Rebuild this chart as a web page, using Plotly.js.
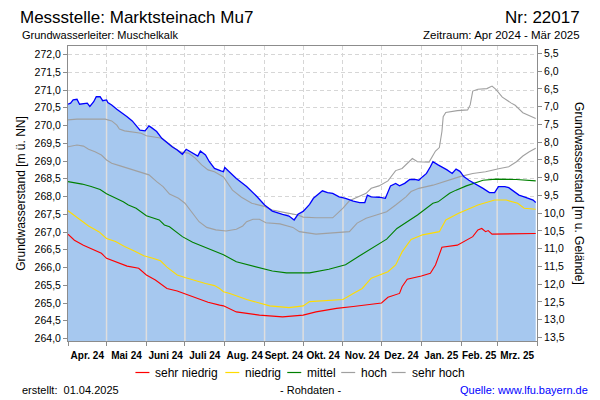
<!DOCTYPE html>
<html>
<head>
<meta charset="utf-8">
<script src="https://cdn.plot.ly/plotly-3.0.1.min.js"></script>
<style>html,body{margin:0;padding:0;background:#fff;}#chart{width:600px;height:400px;}</style>
</head>
<body>
<div id="chart"></div>
<script>
// ---------- Daten ----------
const messDatum = ['2024-04-01','2024-04-03','2024-04-05','2024-04-08','2024-04-10','2024-04-13','2024-04-16','2024-04-18','2024-04-21','2024-04-23','2024-04-26','2024-04-28',
  '2024-05-01','2024-05-02','2024-05-05','2024-05-09','2024-05-13','2024-05-17','2024-05-21','2024-05-24','2024-05-27','2024-05-31',
  '2024-06-03','2024-06-05','2024-06-09','2024-06-13','2024-06-17','2024-06-21','2024-06-25','2024-06-29',
  '2024-07-02','2024-07-06','2024-07-11','2024-07-13','2024-07-17','2024-07-20','2024-07-24','2024-07-29','2024-07-31',
  '2024-08-01','2024-08-06','2024-08-10','2024-08-18','2024-08-26',
  '2024-09-01','2024-09-07','2024-09-15','2024-09-20','2024-09-24','2024-09-27',
  '2024-10-01','2024-10-06','2024-10-09','2024-10-12','2024-10-16','2024-10-20','2024-10-24','2024-10-29',
  '2024-11-03','2024-11-09','2024-11-14','2024-11-18','2024-11-20','2024-11-23','2024-11-29',
  '2024-12-04','2024-12-06','2024-12-08','2024-12-12','2024-12-15','2024-12-19','2024-12-23','2024-12-27','2024-12-30',
  '2025-01-02','2025-01-05','2025-01-08','2025-01-10','2025-01-14','2025-01-18','2025-01-21','2025-01-25','2025-01-28','2025-01-31',
  '2025-02-03','2025-02-07','2025-02-13','2025-02-18','2025-02-23','2025-02-27',
  '2025-03-02','2025-03-07','2025-03-10','2025-03-14','2025-03-18','2025-03-22','2025-03-26','2025-03-29','2025-03-31'];
const messWert = [270.60,270.63,270.72,270.74,270.60,270.62,270.63,270.54,270.67,270.81,270.81,270.70,
  270.72,270.65,270.58,270.46,270.36,270.25,270.13,270.01,269.87,269.85,
  269.99,269.94,269.83,269.64,269.52,269.40,269.31,269.19,
  269.33,269.25,269.14,269.28,269.17,268.98,268.79,268.72,268.70,
  268.82,268.65,268.51,268.28,268.00,
  267.76,267.59,267.50,267.45,267.34,267.50,
  267.58,267.78,267.95,268.04,268.16,268.11,268.09,267.99,
  267.95,267.87,267.83,267.83,268.04,267.99,267.98,
  267.95,268.11,268.30,268.37,268.30,268.37,268.48,268.48,268.46,
  268.56,268.65,268.84,268.98,268.89,268.82,268.75,268.65,268.77,268.71,
  268.56,268.46,268.34,268.23,268.11,268.11,
  268.28,268.28,268.25,268.15,268.04,267.99,267.95,267.90,267.83];

const sehrHochDatum = ['2024-04-01','2024-04-08','2024-04-30','2024-05-05','2024-05-09','2024-05-11','2024-05-15','2024-05-21','2024-05-28','2024-06-01','2024-06-08','2024-06-13','2024-06-18','2024-06-23','2024-06-28','2024-07-04','2024-07-09','2024-07-14','2024-07-19','2024-07-24','2024-07-31','2024-08-03','2024-08-07','2024-08-14','2024-08-22','2024-08-31','2024-09-07','2024-09-18','2024-09-27','2024-10-01','2024-10-11','2024-10-24','2024-10-28','2024-11-01','2024-11-06','2024-11-12','2024-11-19','2024-11-23','2024-11-29','2024-12-06','2024-12-12','2024-12-17','2024-12-23','2024-12-25','2024-12-29','2025-01-07','2025-01-12','2025-01-15','2025-01-17','2025-01-18','2025-01-20','2025-01-29','2025-02-06','2025-02-08','2025-02-10','2025-02-14','2025-02-21','2025-02-25','2025-02-28','2025-03-05','2025-03-12','2025-03-15','2025-03-21','2025-03-24','2025-03-31'];
const sehrHochWert = [270.16,270.18,270.18,270.13,270.01,269.90,269.85,269.81,269.78,269.71,269.68,269.64,269.50,269.36,269.25,269.22,269.08,268.89,268.75,268.70,268.55,268.40,268.18,267.98,267.81,267.73,267.62,267.54,267.48,267.42,267.40,267.40,267.53,267.67,267.88,267.98,268.09,268.23,268.30,268.44,268.73,268.79,268.98,269.07,268.98,268.97,269.28,269.38,269.83,270.25,270.37,270.42,270.44,270.58,270.97,271.02,271.04,271.11,271.02,270.80,270.63,270.57,270.36,270.31,270.20];

const hochDatum = ['2024-04-01','2024-04-08','2024-04-13','2024-04-17','2024-04-22','2024-04-27','2024-05-01','2024-05-05','2024-05-11','2024-05-18','2024-05-23','2024-05-28','2024-06-03','2024-06-09','2024-06-14','2024-06-19','2024-06-26','2024-07-01','2024-07-06','2024-07-12','2024-07-18','2024-07-25','2024-08-02','2024-08-10','2024-08-15','2024-08-18','2024-08-23','2024-08-28','2024-09-02','2024-09-13','2024-09-23','2024-09-28','2024-10-11','2024-10-24','2024-11-06','2024-11-12','2024-11-19','2024-11-27','2024-12-05','2024-12-12','2024-12-20','2024-12-24','2024-12-30','2025-01-10','2025-01-20','2025-01-31','2025-02-10','2025-02-20','2025-03-03','2025-03-10','2025-03-16','2025-03-21','2025-03-26','2025-03-31'];
const hochWert = [269.40,269.45,269.42,269.33,269.26,269.17,269.03,268.94,268.87,268.79,268.72,268.67,268.61,268.42,268.28,268.07,267.95,267.81,267.57,267.29,267.13,267.06,267.03,267.08,267.17,267.29,267.36,267.36,267.26,267.23,267.13,267.01,266.94,266.98,267.01,267.25,267.39,267.48,267.57,267.76,267.99,268.14,268.23,268.32,268.44,268.56,268.65,268.70,268.79,268.84,268.98,269.14,269.26,269.36];

const mittelDatum = ['2024-04-01','2024-04-12','2024-04-19','2024-04-26','2024-05-01','2024-05-03','2024-05-14','2024-05-18','2024-05-24','2024-06-01','2024-06-11','2024-06-15','2024-06-19','2024-06-29','2024-07-07','2024-07-18','2024-07-31','2024-08-10','2024-08-28','2024-09-07','2024-09-18','2024-10-06','2024-10-21','2024-11-03','2024-11-14','2024-12-01','2024-12-05','2024-12-13','2024-12-25','2024-12-29','2025-01-10','2025-01-14','2025-01-23','2025-01-28','2025-02-05','2025-02-18','2025-02-28','2025-03-16','2025-03-31'];
const mittelWert = [268.42,268.35,268.28,268.20,268.08,268.04,267.85,267.76,267.67,267.46,267.34,267.20,267.15,266.87,266.71,266.54,266.36,266.16,265.98,265.90,265.85,265.85,265.95,266.08,266.33,266.70,266.80,267.10,267.39,267.48,267.81,267.85,268.09,268.18,268.30,268.46,268.49,268.48,268.44];

const niedrigDatum = ['2024-04-01','2024-04-09','2024-04-17','2024-04-25','2024-05-01','2024-05-08','2024-05-15','2024-05-23','2024-05-30','2024-06-06','2024-06-12','2024-06-17','2024-06-25','2024-07-01','2024-07-09','2024-07-17','2024-07-24','2024-07-28','2024-07-31','2024-08-05','2024-08-18','2024-09-05','2024-09-20','2024-10-01','2024-10-06','2024-10-21','2024-11-01','2024-11-09','2024-11-16','2024-11-23','2024-12-01','2024-12-06','2024-12-12','2024-12-17','2024-12-24','2025-01-02','2025-01-15','2025-01-20','2025-01-30','2025-02-06','2025-02-14','2025-02-27','2025-03-08','2025-03-17','2025-03-22','2025-03-31'];
const niedrigWert = [267.60,267.39,267.17,267.01,266.82,266.73,266.59,266.46,266.33,266.26,266.19,266.01,265.79,265.72,265.63,265.55,265.49,265.41,265.32,265.27,265.10,264.92,264.87,264.92,265.04,265.08,265.10,265.27,265.41,265.70,265.82,265.88,266.07,266.44,266.79,266.92,267.01,267.34,267.53,267.64,267.76,267.90,267.90,267.81,267.67,267.64];

const sehrNiedrigDatum = ['2024-04-01','2024-04-06','2024-04-13','2024-04-21','2024-04-27','2024-05-01','2024-05-09','2024-05-17','2024-05-26','2024-06-01','2024-06-08','2024-06-13','2024-06-17','2024-06-25','2024-07-02','2024-07-11','2024-07-19','2024-07-28','2024-07-31','2024-08-10','2024-08-28','2024-09-15','2024-10-01','2024-10-11','2024-10-27','2024-11-09','2024-11-22','2024-12-01','2024-12-06','2024-12-15','2024-12-17','2024-12-21','2025-01-01','2025-01-08','2025-01-12','2025-01-17','2025-01-29','2025-02-05','2025-02-10','2025-02-14','2025-02-17','2025-02-20','2025-02-22','2025-02-25','2025-03-31'];
const sehrNiedrigWert = [266.94,266.77,266.63,266.51,266.40,266.26,266.14,266.04,265.98,265.79,265.65,265.53,265.41,265.34,265.25,265.13,265.02,264.94,264.92,264.75,264.66,264.61,264.66,264.75,264.85,264.90,264.96,265.00,265.16,265.27,265.46,265.67,265.76,265.84,266.07,266.57,266.63,266.76,266.87,267.06,267.10,267.01,267.04,266.94,266.96];

const monatsAnfang = ['2024-04-01','2024-05-01','2024-06-01','2024-07-01','2024-08-01','2024-09-01','2024-10-01','2024-11-01','2024-12-01','2025-01-01','2025-02-01','2025-03-01','2025-04-01'];
const monatsLabels = ['Apr. 24','Mai 24','Juni 24','Juli 24','Aug. 24','Sept. 24','Okt. 24','Nov. 24','Dez. 24','Jan. 25','Feb. 25','Mrz. 25'];

const gelaende = 277.53;            // Geländehöhe [m ü. NN]
const yBereich = [263.93, 272.24];  // Achsbereich links

const legendeNamen = ['sehr niedrig','niedrig','mittel','hoch','sehr hoch'];
const legendeFarben = ['#ff0000','#ffdc00','#008000','#a0a0a0','#a0a0a0'];

// ---------- Aufbau ----------
const F = '"Liberation Sans", Arial, Helvetica, sans-serif';
const tms = s => Date.parse(s + 'T00:00:00Z');
function messBei(d) {
  const t = tms(d);
  for (let i = 0; i < messDatum.length - 1; i++) {
    const a = tms(messDatum[i]), b = tms(messDatum[i + 1]);
    if (t >= a && t <= b) return messWert[i] + (messWert[i + 1] - messWert[i]) * (t - a) / (b - a);
  }
  return messWert[messWert.length - 1];
}
const isoOf = ms => new Date(ms).toISOString().slice(0, 19).replace('T', ' ');
const monatsMitte = monatsLabels.map((_, i) => isoOf((tms(monatsAnfang[i]) + tms(monatsAnfang[i + 1])) / 2));

const gx = [], gy = [];
monatsAnfang.slice(1, -1).forEach(d => { gx.push(d, d, null); gy.push(yBereich[0] - 1, messBei(d), null); });

const xRange = [monatsAnfang[0], monatsAnfang[monatsAnfang.length - 1]];
const reihen = [[sehrNiedrigDatum, sehrNiedrigWert], [niedrigDatum, niedrigWert], [mittelDatum, mittelWert], [hochDatum, hochWert], [sehrHochDatum, sehrHochWert]];

const traces = [
  {x: messDatum, y: messWert, type: 'scatter', mode: 'lines', fill: 'tozeroy', fillcolor: '#a6c8ef', line: {width: 0, color: '#a6c8ef'}, hoverinfo: 'skip', showlegend: false},
  {x: gx, y: gy, type: 'scatter', mode: 'lines', line: {color: '#dedede', width: 1.5}, hoverinfo: 'skip', showlegend: false}
];
reihen.forEach((r, i) => traces.push({x: r[0], y: r[1], type: 'scatter', mode: 'lines', name: legendeNamen[i], line: {color: legendeFarben[i], width: 1.1}, showlegend: false}));
traces.push({x: messDatum, y: messWert, type: 'scatter', mode: 'lines', name: 'Messwert', line: {color: '#0000ff', width: 1.3}, showlegend: false});
traces.push({x: [xRange[0]], y: [null], xaxis: 'x2', yaxis: 'y', mode: 'lines', showlegend: false, hoverinfo: 'skip'});
traces.push({x: [xRange[0]], y: [null], xaxis: 'x', yaxis: 'y2', mode: 'lines', showlegend: false, hoverinfo: 'skip'});

const L = 68, R = 537.5, T = 46, B = 341;
const px = x => (x - L) / (R - L);
const py = y => (B - y) / (B - T);

const ann = [
  {text: 'Nr: 22017', x: px(583), xanchor: 'right', y: py(17), yanchor: 'middle', font: {size: 17}},
  {text: 'Grundwasserleiter: Muschelkalk', x: px(20), xanchor: 'left', y: py(34.5), yanchor: 'middle', font: {size: 11}},
  {text: 'Zeitraum: Apr 2024 - Mär 2025', x: px(583), xanchor: 'right', y: py(34.5), yanchor: 'middle', font: {size: 11.5}},
  {text: 'Grundwasserstand [m u. Gelände]', x: px(580), xanchor: 'center', y: 0.5, yanchor: 'middle', textangle: 90, font: {size: 12}},
  {text: 'erstellt:&nbsp;&nbsp;01.04.2025', x: px(20), xanchor: 'left', y: py(390), yanchor: 'middle', font: {size: 11}},
  {text: '- Rohdaten -', x: px(311), xanchor: 'center', y: py(390), yanchor: 'middle', font: {size: 11}},
  {text: 'Quelle: www.lfu.bayern.de', x: px(591), xanchor: 'right', y: py(390), yanchor: 'middle', font: {size: 11, color: '#0000ff'}}
];
const legTextX = [153.5, 243.5, 305.5, 359.5, 410];
const shapes = [];
legendeNamen.forEach((n, i) => {
  ann.push({text: n, x: px(legTextX[i]), xanchor: 'left', y: py(372.5), yanchor: 'middle', font: {size: 12}});
  shapes.push({type: 'line', xref: 'paper', yref: 'paper', x0: px(legTextX[i] - 18), x1: px(legTextX[i] - 4), y0: py(372.5), y1: py(372.5), line: {color: legendeFarben[i], width: 1.2}});
});
ann.forEach(a => { a.xref = 'paper'; a.yref = 'paper'; a.showarrow = false; });

const achsFarbe = '#8c8c8c';
const gitter = {showgrid: true, gridcolor: '#d6d6d6', griddash: '4px,3px', gridwidth: 1};
const layout = {
  width: 600, height: 400,
  margin: {l: L, r: 600 - R, t: T, b: 400 - B, pad: 0},
  paper_bgcolor: '#ffffff', plot_bgcolor: '#ffffff',
  separators: ',.',
  font: {family: F, size: 11, color: '#000000'},
  showlegend: false,
  title: {text: 'Messstelle: Marktsteinach Mu7', xref: 'container', yref: 'container', x: 20 / 600, xanchor: 'left', y: 1 - 17 / 400, yanchor: 'middle', font: {size: 17, family: F}},
  xaxis: Object.assign({type: 'date', range: xRange, tickmode: 'array', tickvals: monatsAnfang, ticktext: monatsAnfang.map(() => ''),
    ticks: 'outside', ticklen: 4, tickcolor: achsFarbe, showline: true, linecolor: achsFarbe, linewidth: 1, mirror: true, zeroline: false}, gitter),
  xaxis2: {type: 'date', overlaying: 'x', range: xRange, tickmode: 'array', tickvals: monatsMitte, ticktext: monatsLabels, tickangle: 0,
    ticks: 'outside', ticklen: 5, tickcolor: 'rgba(0,0,0,0)', showgrid: false, showline: false, zeroline: false,
    tickfont: {size: 10, weight: 'bold', family: F}, side: 'bottom'},
  yaxis: Object.assign({range: yBereich, tickmode: 'linear', tick0: 264, dtick: 0.5, tickformat: '.1f', ticks: 'outside', ticklen: 4, tickcolor: achsFarbe,
    showline: true, linecolor: achsFarbe, linewidth: 1, zeroline: false, tickfont: {size: 10.5},
    title: {text: 'Grundwasserstand [m ü. NN]', font: {size: 12}, standoff: 6}}, gitter),
  yaxis2: {overlaying: 'y', side: 'right', range: [gelaende - yBereich[0], gelaende - yBereich[1]], tickmode: 'linear', tick0: 5.5, dtick: 0.5,
    tickformat: '.1f', ticks: 'outside', ticklen: 4, tickcolor: achsFarbe, showline: true, linecolor: achsFarbe, linewidth: 1,
    showgrid: false, zeroline: false, tickfont: {size: 10.5}},
  annotations: ann,
  shapes: shapes
};

Plotly.newPlot('chart', traces, layout, {staticPlot: true, displayModeBar: false});
</script>
</body>
</html>
